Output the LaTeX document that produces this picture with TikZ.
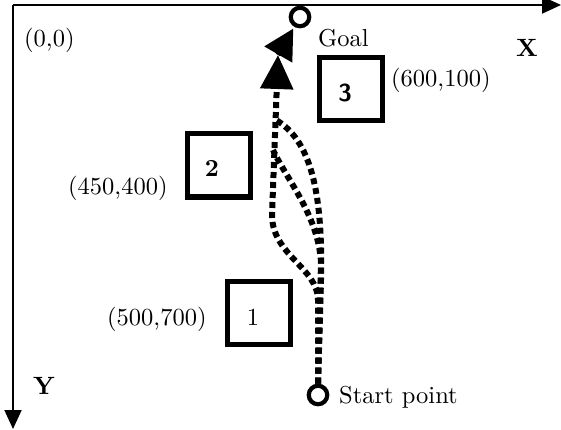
\documentclass[tikz,border=0pt]{standalone}
\usepackage{fontspec}
\setmainfont{lmroman10-regular}[Extension=.otf, BoldFont=lmroman10-bold, ItalicFont=lmroman10-italic]
\setsansfont{lmsans10-regular}[Extension=.otf, BoldFont=lmsans10-bold]
\usetikzlibrary{arrows.meta}

\tikzset{
  axis/.style={line width=2pt, -{Triangle[length=19pt,width=17pt]}},
  obstacle/.style={draw, line width=5pt, minimum width=63pt, minimum height=63pt, inner sep=0pt},
  endpoint/.style={draw, circle, line width=4.2pt, minimum size=18.5pt, inner sep=0pt, fill=white},
  route/.style={line width=6pt, dash pattern=on 6pt off 4pt},
  lbl/.style={font=\fontsize{24.5}{28}\selectfont, inner sep=0pt},
  axlbl/.style={font=\fontsize{25}{29}\selectfont\bfseries, inner sep=0pt},
}

\begin{document}
\begin{tikzpicture}[x=1pt, y=-1pt]
  \useasboundingbox (0,0) rectangle (561,430);

  % coordinate axes
  \coordinate (origin) at (13,5);
  \coordinate (xend) at (561,5);
  \coordinate (yend) at (13,429);
  \draw[axis] (origin) -- (xend);
  \draw[axis] (origin) -- (yend);
  \node[axlbl, anchor=base] (xlabel) at (527,57) {X};
  \node[axlbl, anchor=base] (ylabel) at (44,394) {Y};
  \node[lbl, anchor=base west] (origlabel) at (24,47) {(0,0)};

  % obstacles
  \node[obstacle] (box1) at (258.5,312.5) {};
  \node[obstacle] (box2) at (218.5,165.5) {};
  \node[obstacle] (box3) at (350.5,89.5) {};
  \node[lbl, anchor=base] (n1) at (253,325) {1};
  \node[lbl, anchor=base] (n2) at (212,177) {\bfseries 2};
  \node[lbl, anchor=base] (n3) at (345,102) {\sffamily\bfseries 3};
  \node[lbl, anchor=base west] (c1) at (107,325) {(500,700)};
  \node[lbl, anchor=base west] (c2) at (68,194) {(450,400)};
  \node[lbl, anchor=base west] (c3) at (391,87) {(600,100)};

  % start and goal markers
  \node[endpoint] (start) at (318,395) {};
  \node[endpoint] (goal) at (300,17) {};
  \node[lbl, anchor=base west] (startlabel) at (339,403) {Start point};
  \node[lbl, anchor=base west] (goallabel) at (318,47) {Goal};

  % candidate routes from the start point
  \coordinate (mid) at (278,55);
  \coordinate (split1) at (276,120);
  \coordinate (split2) at (273,150);
  \draw[route] (start.north) -- (321,280)
    .. controls (323,190) and (310,140) .. (split1);
  \draw[route] (start.north) -- (321,262)
    .. controls (318,215) and (287,180) .. (split2);
  \draw[route, -{Triangle[length=34pt,width=32pt]}] (start.north) -- (318,300)
    .. controls (318,268) and (272,255) .. (272,215) -- (mid);
  \draw[line width=5pt, -{Triangle[length=30pt,width=31pt]}, shorten >=2pt]
    (mid) -- (goal);
\end{tikzpicture}
\end{document}
